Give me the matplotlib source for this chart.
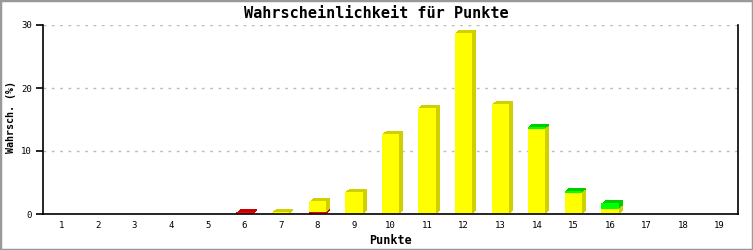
import matplotlib
matplotlib.use("Agg")
import matplotlib.pyplot as plt
import matplotlib.transforms as mtransforms
from matplotlib.patches import Rectangle
import numpy as np

## values (percent)
punkte = list(range(1, 20))
red = [0, 0, 0, 0, 0, 0.25, 0, 0.25, 0, 0, 0, 0, 0, 0, 0, 0, 0, 0, 0]
yellow = [0, 0, 0, 0, 0, 0, 0.35, 1.75, 3.5, 12.7, 16.9, 28.8, 17.5, 13.5, 3.4, 0.85, 0, 0, 0]
green = [0, 0, 0, 0, 0, 0, 0, 0, 0, 0, 0, 0, 0, 0.35, 0.3, 0.85, 0, 0, 0]

title = "Wahrscheinlichkeit für Punkte"
xlabel = "Punkte"
ylabel = "Wahrsch. (%)"

font = "DejaVu Sans Mono"

fig = plt.figure(figsize=(7.53, 2.5), dpi=100)
fig.patch.set_facecolor("white")
fig.patches.append(
    Rectangle((0, 0), 1, 1, transform=fig.transFigure, fill=False,
              edgecolor="#999999", linewidth=2.5, zorder=10)
)

ax = fig.add_axes([43 / 753, 36 / 250, 695 / 753, 189 / 250])

x = np.array(punkte)
width = 0.47
layers = [
    (np.array(red), "#ff0000", "#cc0000"),
    (np.array(yellow), "#ffff00", "#d0d000"),
    (np.array(green), "#00ff00", "#00cc00"),
]

## fake 3d: darker copies shifted right/up by a few pixels, then the front face
bottom = np.zeros(len(x))
for vals, front, side in layers:
    for k in (1, 2, 3, 4):
        off = mtransforms.ScaledTranslation(k / 100, 0.75 * k / 100, fig.dpi_scale_trans)
        bars = ax.bar(x, vals, width, bottom=bottom, color=side, linewidth=0, zorder=2)
        for p in bars:
            p.set_transform(ax.transData + off)
            if p.get_height() == 0:
                p.set_visible(False)
    bars = ax.bar(x, vals, width, bottom=bottom, color=front, linewidth=0, zorder=3)
    for p in bars:
        if p.get_height() == 0:
            p.set_visible(False)
    bottom = bottom + vals

ax.set_xlim(0.5, 19.5)
ax.set_ylim(0, 30)
ax.set_yticks([0, 10, 20, 30])
ax.set_xticks(x)
ax.set_xticklabels([str(v) for v in punkte])

ax.yaxis.grid(True, color="#bbbbbb", linestyle=(0, (2, 4)), linewidth=1)
ax.set_axisbelow(True)

ax.spines["top"].set_visible(False)
for s in ("left", "bottom", "right"):
    ax.spines[s].set_linewidth(1.2)
    ax.spines[s].set_zorder(5)

ax.tick_params(axis="y", length=5, width=1.2, direction="out", pad=3, labelsize=6.5)
ax.tick_params(axis="x", length=0, pad=5, labelsize=6.5)
for lbl in ax.get_xticklabels() + ax.get_yticklabels():
    lbl.set_family(font)

# title is centred on the whole image, not on the plot area
fig.text(376 / 753, 1 - 14 / 250, title, fontsize=11, fontweight="bold",
         family=font, ha="center", va="center")
ax.set_xlabel(xlabel, fontsize=8.5, fontweight="bold", family=font, labelpad=3)
ax.set_ylabel(ylabel, fontsize=7.2, fontweight="bold", family=font)
ax.yaxis.set_label_coords(-0.039, 0.513)

fig.savefig("out.png", dpi=100)
